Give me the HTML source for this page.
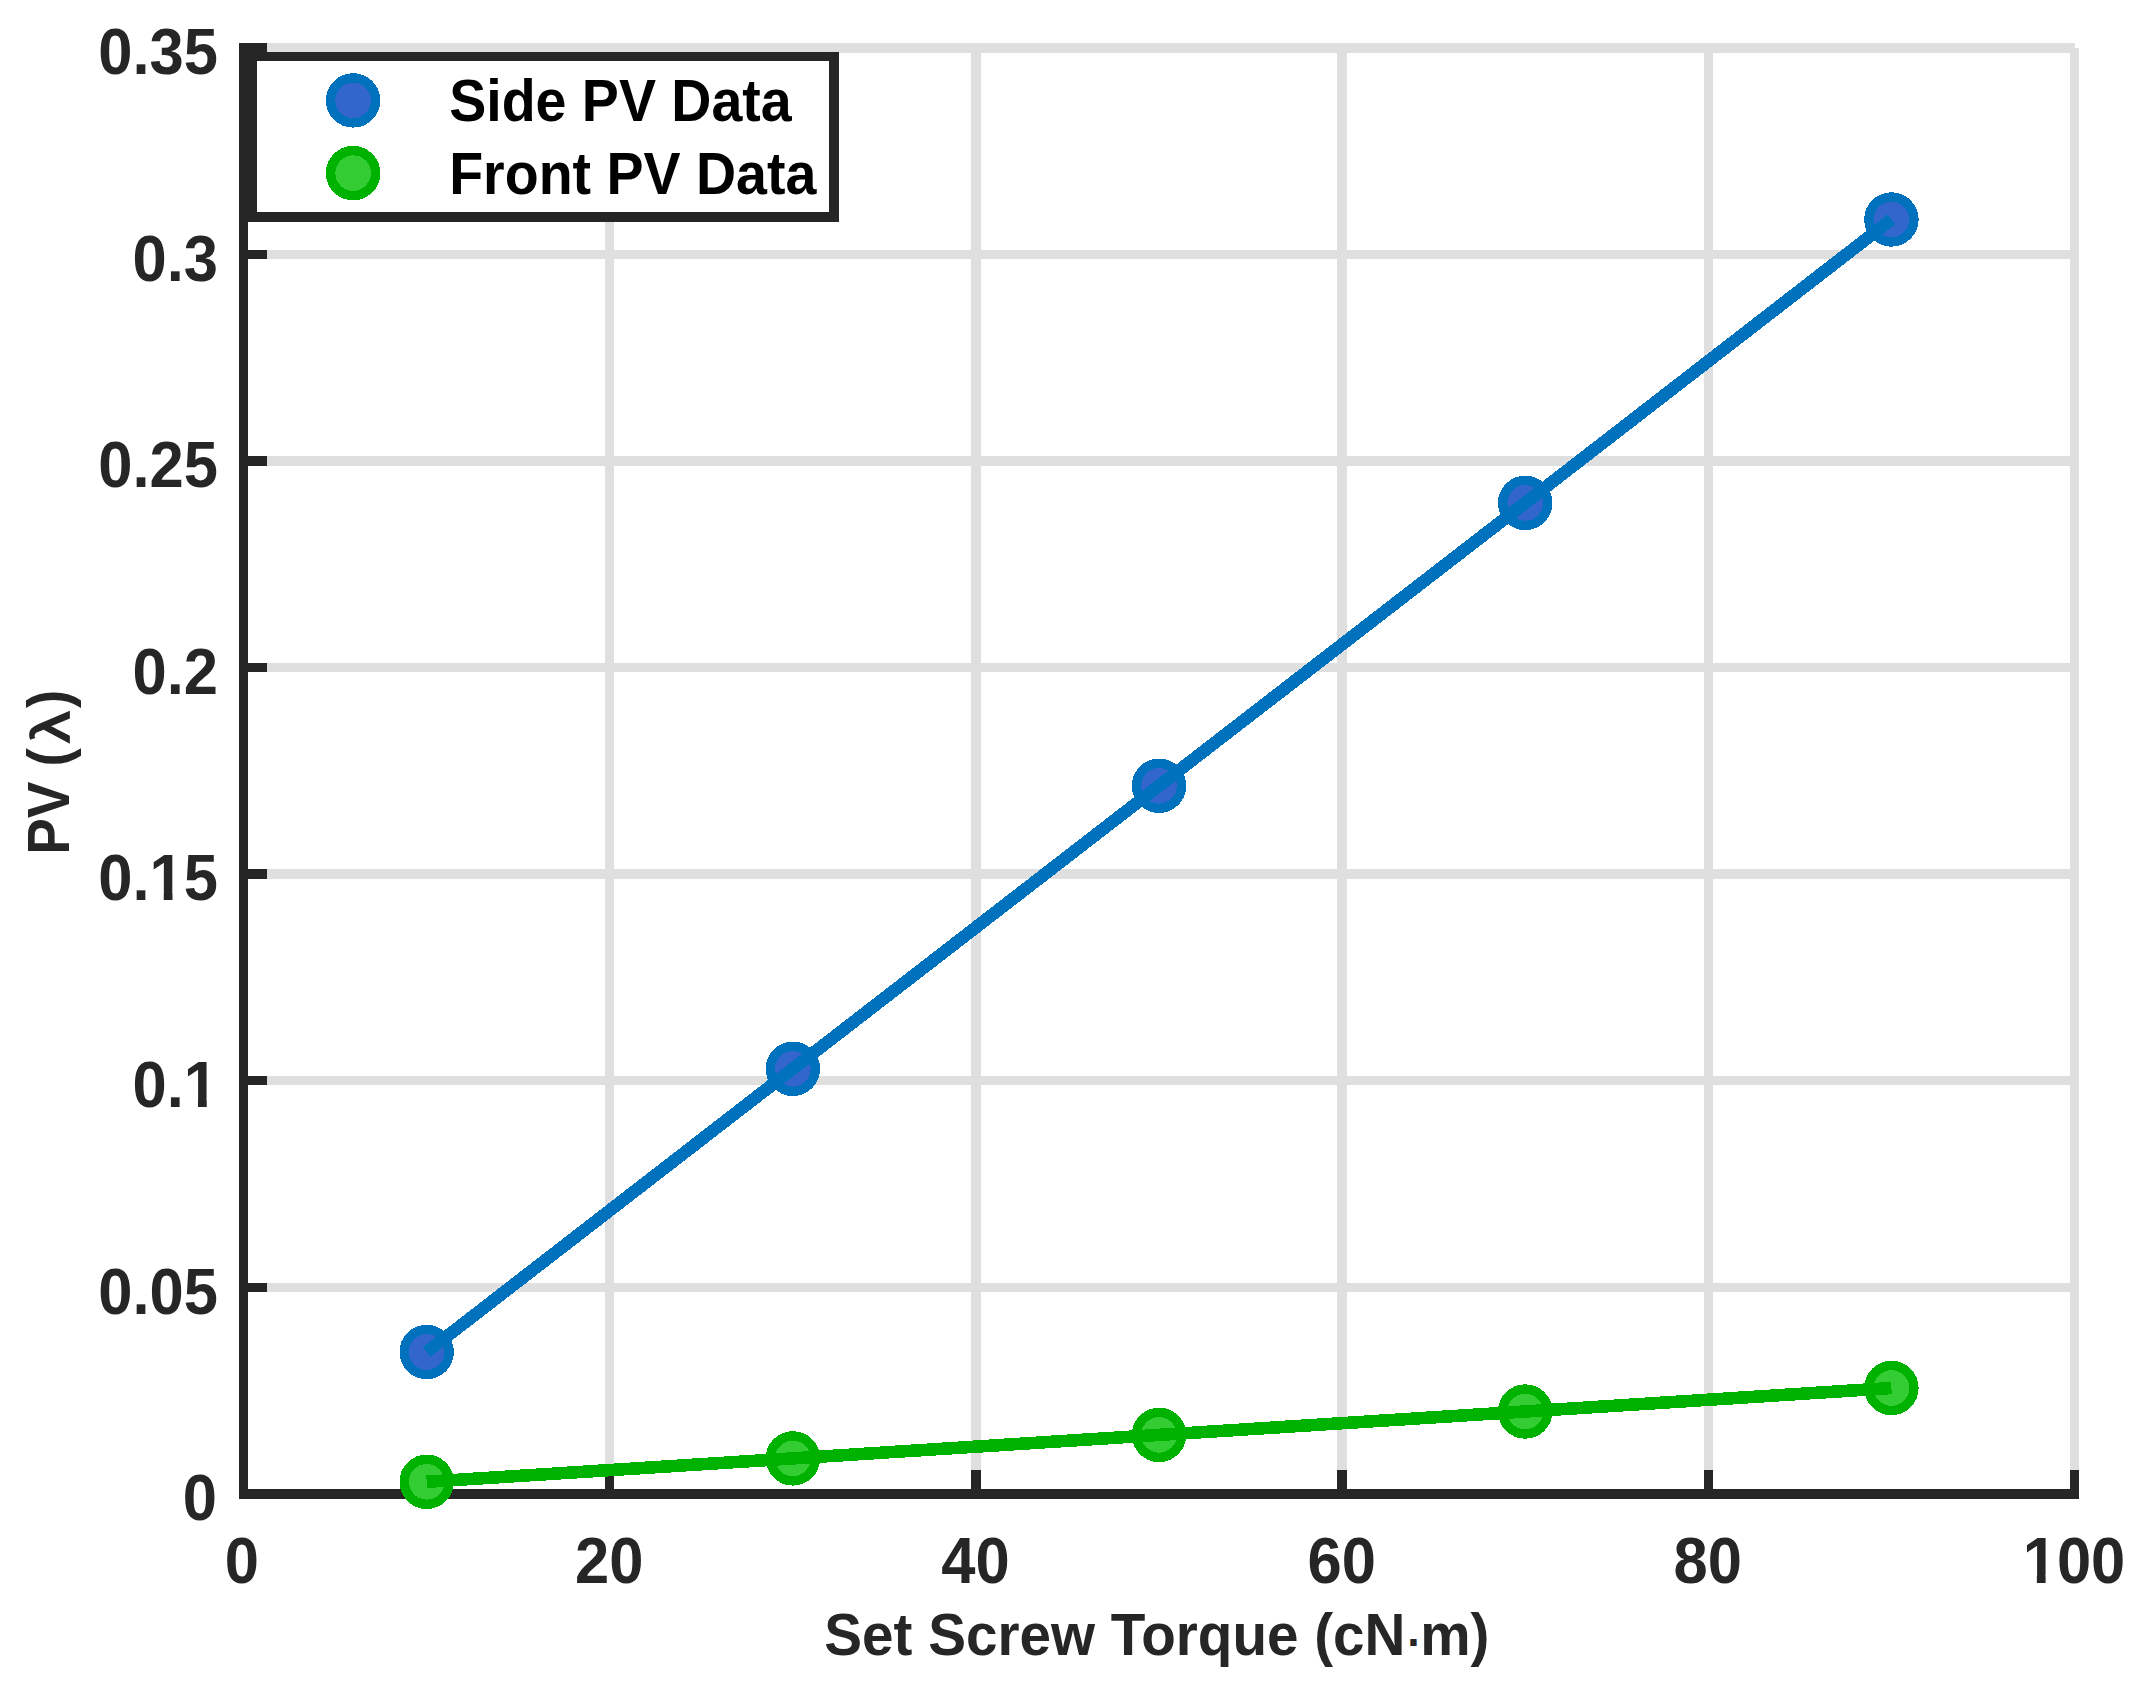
<!DOCTYPE html>
<html lang="en"><head><meta charset="utf-8"><title>PV vs Set Screw Torque</title>
<style>
html,body{margin:0;padding:0;background:#fff;}
body{width:2141px;height:1690px;overflow:hidden;}
svg{display:block;}
text{font-family:"Liberation Sans",sans-serif;font-weight:bold;}
.tk{font-size:62.5px;fill:#262626;}
.lb{font-size:56.25px;fill:#262626;}
.lg{font-size:56.25px;fill:#000;}
.lam{font-size:56.25px;fill:#262626;font-weight:normal;stroke:#262626;stroke-width:1.8px;}
</style></head><body>
<svg width="2141" height="1690" viewBox="0 0 2141 1690">
<rect x="0" y="0" width="2141" height="1690" fill="#ffffff"/>
<g stroke="#dfdfdf" stroke-width="9.4" fill="none" shape-rendering="crispEdges">
<line x1="609.78" y1="47.69" x2="609.78" y2="1493.85"/>
<line x1="975.96" y1="47.69" x2="975.96" y2="1493.85"/>
<line x1="1342.14" y1="47.69" x2="1342.14" y2="1493.85"/>
<line x1="1708.32" y1="47.69" x2="1708.32" y2="1493.85"/>
<line x1="2074.50" y1="47.69" x2="2074.50" y2="1493.85"/>
<line x1="243.60" y1="1287.25" x2="2074.50" y2="1287.25"/>
<line x1="243.60" y1="1080.66" x2="2074.50" y2="1080.66"/>
<line x1="243.60" y1="874.06" x2="2074.50" y2="874.06"/>
<line x1="243.60" y1="667.47" x2="2074.50" y2="667.47"/>
<line x1="243.60" y1="460.88" x2="2074.50" y2="460.88"/>
<line x1="243.60" y1="254.28" x2="2074.50" y2="254.28"/>
<line x1="243.60" y1="47.69" x2="2074.50" y2="47.69"/>
<rect x="243.60" y="43" width="1830.90" height="10" fill="#dfdfdf" stroke="none"/>
</g>
<g stroke="#262626" stroke-width="9.4" fill="none" shape-rendering="crispEdges">
<line x1="243.60" y1="42.99" x2="243.60" y2="1498.55"/>
<line x1="238.90" y1="1493.85" x2="2079.20" y2="1493.85"/>
<line x1="609.78" y1="1493.85" x2="609.78" y2="1470.45"/>
<line x1="975.96" y1="1493.85" x2="975.96" y2="1470.45"/>
<line x1="1342.14" y1="1493.85" x2="1342.14" y2="1470.45"/>
<line x1="1708.32" y1="1493.85" x2="1708.32" y2="1470.45"/>
<line x1="2074.50" y1="1493.85" x2="2074.50" y2="1470.45"/>
<line x1="243.60" y1="1287.25" x2="267.00" y2="1287.25"/>
<line x1="243.60" y1="1080.66" x2="267.00" y2="1080.66"/>
<line x1="243.60" y1="874.06" x2="267.00" y2="874.06"/>
<line x1="243.60" y1="667.47" x2="267.00" y2="667.47"/>
<line x1="243.60" y1="460.88" x2="267.00" y2="460.88"/>
<line x1="243.60" y1="254.28" x2="267.00" y2="254.28"/>
<line x1="243.60" y1="47.69" x2="267.00" y2="47.69"/>
</g>
<g shape-rendering="crispEdges">
<circle cx="426.69" cy="1352.00" r="22.5" fill="#3366cc" stroke="#0072bd" stroke-width="9.4"/>
<circle cx="792.87" cy="1068.80" r="22.5" fill="#3366cc" stroke="#0072bd" stroke-width="9.4"/>
<circle cx="1159.05" cy="785.80" r="22.5" fill="#3366cc" stroke="#0072bd" stroke-width="9.4"/>
<circle cx="1525.23" cy="502.90" r="22.5" fill="#3366cc" stroke="#0072bd" stroke-width="9.4"/>
<circle cx="1891.41" cy="219.50" r="22.5" fill="#3366cc" stroke="#0072bd" stroke-width="9.4"/>
<polyline points="426.69,1352.00 792.87,1068.80 1159.05,785.80 1525.23,502.90 1891.41,219.50" fill="none" stroke="#0072bd" stroke-width="12.6" stroke-linejoin="round"/>
</g>
<g shape-rendering="crispEdges">
<circle cx="426.69" cy="1481.80" r="22.5" fill="#33cc33" stroke="#00b200" stroke-width="9.4"/>
<circle cx="792.87" cy="1458.40" r="22.5" fill="#33cc33" stroke="#00b200" stroke-width="9.4"/>
<circle cx="1159.05" cy="1434.90" r="22.5" fill="#33cc33" stroke="#00b200" stroke-width="9.4"/>
<circle cx="1525.23" cy="1411.50" r="22.5" fill="#33cc33" stroke="#00b200" stroke-width="9.4"/>
<circle cx="1891.41" cy="1388.00" r="22.5" fill="#33cc33" stroke="#00b200" stroke-width="9.4"/>
<polyline points="426.69,1481.80 792.87,1458.40 1159.05,1434.90 1525.23,1411.50 1891.41,1388.00" fill="none" stroke="#00b200" stroke-width="12.6" stroke-linejoin="round"/>
</g>
<text class="tk" text-anchor="middle" transform="translate(241.90 1583.00) scale(0.9850 1.0270)">0</text>
<text class="tk" text-anchor="middle" transform="translate(609.28 1583.00) scale(0.9850 1.0270)">20</text>
<text class="tk" text-anchor="middle" transform="translate(975.46 1583.00) scale(0.9850 1.0270)">40</text>
<text class="tk" text-anchor="middle" transform="translate(1341.64 1583.00) scale(0.9850 1.0270)">60</text>
<text class="tk" text-anchor="middle" transform="translate(1707.82 1583.00) scale(0.9850 1.0270)">80</text>
<text class="tk" text-anchor="middle" transform="translate(2074.00 1583.00) scale(0.9850 1.0270)">100</text>
<text class="tk" text-anchor="end" transform="translate(217.10 1520.15) scale(0.9850 1.0270)">0</text>
<text class="tk" text-anchor="end" transform="translate(218.00 1313.55) scale(0.9850 1.0270)">0.05</text>
<text class="tk" text-anchor="end" transform="translate(218.00 1106.96) scale(0.9850 1.0270)">0.1</text>
<text class="tk" text-anchor="end" transform="translate(218.00 900.36) scale(0.9850 1.0270)">0.15</text>
<text class="tk" text-anchor="end" transform="translate(218.00 693.77) scale(0.9850 1.0270)">0.2</text>
<text class="tk" text-anchor="end" transform="translate(218.00 487.18) scale(0.9850 1.0270)">0.25</text>
<text class="tk" text-anchor="end" transform="translate(218.00 280.58) scale(0.9850 1.0270)">0.3</text>
<text class="tk" text-anchor="end" transform="translate(218.00 73.99) scale(0.9850 1.0270)">0.35</text>
<rect x="2025.54" y="1575" width="11.32" height="9.00" fill="#ffffff"/>
<rect x="2045.61" y="1575" width="10.56" height="9.00" fill="#ffffff"/>
<rect x="186.66" y="1099" width="11.32" height="8.96" fill="#ffffff"/>
<rect x="206.73" y="1099" width="10.56" height="8.96" fill="#ffffff"/>
<rect x="152.42" y="892" width="11.32" height="9.36" fill="#ffffff"/>
<rect x="172.49" y="892" width="10.56" height="9.36" fill="#ffffff"/>
<text class="lb" text-anchor="middle" transform="translate(1156.90 1654.90) scale(1.0070 1.0470)">Set Screw Torque (cN<tspan font-size="44" dx="1.8" dy="3.4">·</tspan><tspan dx="-1.8" dy="-3.4">m)</tspan></text>
<g transform="translate(69 854.8) rotate(-90)">
<text class="lb" text-anchor="start" transform="translate(0.00 0.00) scale(0.9750 1.0470)">PV (</text>
<text class="lam" text-anchor="start" transform="translate(112.20 0.00) scale(1.1000 0.9550)">λ</text>
<text class="lb" text-anchor="start" transform="translate(146.90 0.00) scale(0.9750 1.0470)">)</text>
</g>
<g shape-rendering="crispEdges">
<rect x="248" y="52" width="591" height="170" fill="#262626"/>
<rect x="257" y="61" width="572" height="151" fill="#ffffff"/>
<circle cx="353.1" cy="100.4" r="22.5" fill="#3366cc" stroke="#0072bd" stroke-width="9.4"/>
<circle cx="353.1" cy="173.1" r="22.5" fill="#33cc33" stroke="#00b200" stroke-width="9.4"/>
</g>
<text class="lg" text-anchor="start" transform="translate(449.20 121.00) scale(0.9873 1.0470)">Side PV Data</text>
<text class="lg" text-anchor="start" transform="translate(449.20 194.10) scale(0.9873 1.0470)">Front PV Data</text>
</svg>
</body></html>
